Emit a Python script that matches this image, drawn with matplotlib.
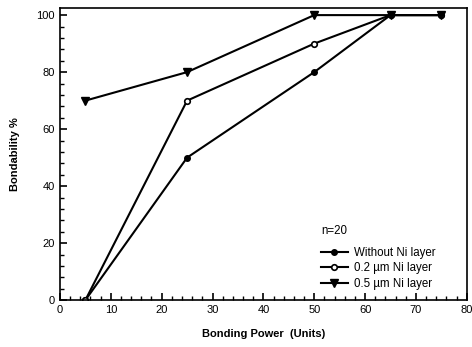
import matplotlib.pyplot as plt
from matplotlib.ticker import MultipleLocator

plt.rcParams['font.family'] = ['Liberation Sans', 'DejaVu Sans']

power = [5, 25, 50, 65, 75]
no_ni = [0, 50, 80, 100, 100]
ni_02 = [0, 70, 90, 100, 100]
ni_05 = [70, 80, 100, 100, 100]
labels = ['Without Ni layer', '0.2 \u00b5m Ni layer', '0.5 \u00b5m Ni layer']

fig = plt.figure(figsize=(4.72, 3.47), dpi=100)
ax = fig.add_axes([0.127, 0.135, 0.862, 0.842])

ax.plot(power, no_ni, '-o', color='black', lw=1.5, ms=4, label=labels[0])
ax.plot(power, ni_02, '-o', color='black', lw=1.5, ms=4, mfc='white', mew=1.2, label=labels[1])
ax.plot(power, ni_05, '-v', color='black', lw=1.5, ms=5.5, label=labels[2])

ax.set_xlim(0, 80)
ax.set_ylim(0, 102.5)
ax.xaxis.set_major_locator(MultipleLocator(10))
ax.xaxis.set_minor_locator(MultipleLocator(2))
ax.yaxis.set_major_locator(MultipleLocator(20))
ax.yaxis.set_minor_locator(MultipleLocator(4))
ax.tick_params(which='both', direction='in', top=False, right=False, labelsize=8)
ax.tick_params(which='major', length=5, width=1.2)
ax.tick_params(which='minor', length=3, width=1)
for s in ax.spines.values():
    s.set_linewidth(1.2)

ax.set_xlabel('Bonding Power  (Units)', fontsize=8, fontweight='bold', labelpad=10)
ax.set_ylabel('Bondability %', fontsize=8, fontweight='bold', labelpad=12)

leg = ax.legend(title='n=20', loc='lower right', bbox_to_anchor=(0.95, 0.0),
                frameon=False, fontsize=8.3, title_fontsize=8.3,
                handlelength=2.3, handletextpad=0.6, labelspacing=0.3)
leg._legend_box.align = 'left'
leg._legend_box.sep = 7

fig.savefig('out.png', dpi=100)
